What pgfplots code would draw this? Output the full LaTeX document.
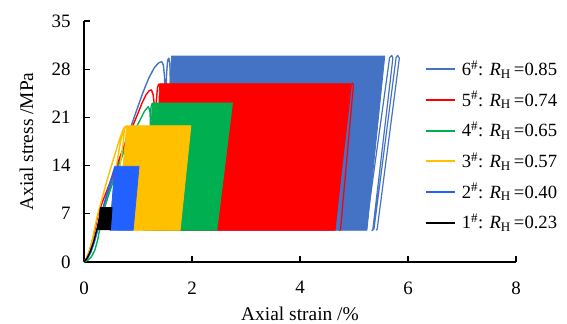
\documentclass[border=0pt]{standalone}
\usepackage{fontspec}
\setmainfont{Liberation Serif}
\usepackage{pgfplots}
\pgfplotsset{compat=1.18}
\definecolor{cS}{RGB}{68,114,196}
\definecolor{cR}{RGB}{255,0,0}
\definecolor{cG}{RGB}{0,176,80}
\definecolor{cY}{RGB}{255,192,0}
\definecolor{cB}{RGB}{34,97,255}
\definecolor{cK}{RGB}{0,0,0}
\newcommand{\legrow}[3]{%
  \draw[#1, line width=2bp] (axis cs:6.333,#2) -- (axis cs:6.87,#2);
  \node[anchor=base west, inner sep=0pt, yshift=-6.2bp, font=\fontsize{18.7}{21}\selectfont] at (axis cs:6.994,#2) {#3};}
\begin{document}
\begin{tikzpicture}
\useasboundingbox (-84bp,-62bp) rectangle (483bp,262bp);
\begin{axis}[
  at={(0,0)}, anchor=south west,
  width=432bp, height=241bp, scale only axis,
  xmin=0, xmax=8, ymin=0, ymax=35,
  clip=false,
  xtick={0,2,4,6,8}, ytick={0,7,14,21,28,35},
  axis lines=left,
  axis line style={-, line width=1.2pt, black},
  tick align=inside,
  major tick length=6bp,
  tick style={line width=1.2pt, black},
  /pgf/number format/assume math mode=true,
  ticklabel style={font=\fontsize{19}{21}\selectfont},
  yticklabel style={xshift=-10bp},
  xticklabel style={yshift=-16bp},
  label style={font=\fontsize{19.5}{22}\selectfont},
  xlabel={Axial strain /\%},
  ylabel={Axial stress /MPa},
  xlabel style={at={(axis description cs:0.5,-0.174)}, anchor=north},
  ylabel style={at={(axis description cs:-0.157,0.5)}, anchor=north},
  line join=round,
]
% 6# blue
\addplot[cS, line width=1.4pt] coordinates {
(0,0) (0.06,0.5) (0.12,1.4) (0.18,2.7) (0.24,4.5) (0.30,6.6) (0.40,9.0) (0.50,11.3)
(0.60,13.6) (0.70,15.9) (0.80,18.2) (0.88,19.9) (1.00,22.6) (1.10,24.8) (1.20,26.7)
(1.30,28.2) (1.38,28.9) (1.44,29.1) (1.47,28.6) (1.49,27.0) (1.50,25.0) (1.48,15)
(1.44,4.8) (1.47,12) (1.51,22) (1.53,27.5) (1.55,29.3) (1.57,29.6) (1.59,28.8) (1.60,26)};
\addplot[cS, fill=cS, line width=0.8pt] coordinates {
(1.62,29.9) (5.57,29.9) (5.24,4.6) (1.45,4.6)} -- cycle;
\addplot[cS, line width=1.2pt] coordinates {
(5.22,4.7) (5.66,29.7) (5.70,30.0) (5.72,29.6) (5.35,4.8) (5.33,4.55) (5.37,4.8)
(5.78,29.7) (5.81,30.0) (5.84,29.6) (5.43,4.8) (5.41,4.6)};

% 5# red
\addplot[cR, line width=1.4pt] coordinates {
(0,0) (0.05,0.6) (0.10,1.6) (0.15,3.0) (0.20,4.6) (0.26,6.9) (0.35,8.9) (0.45,10.9)
(0.55,12.9) (0.65,14.9) (0.75,16.9) (0.85,18.7) (0.91,19.9) (1.00,21.6) (1.07,23.0)
(1.15,24.3) (1.21,24.9) (1.25,25.0) (1.28,24.3) (1.30,23.0) (1.28,12) (1.24,4.8)
(1.28,13) (1.33,22.5) (1.36,25.3) (1.38,25.8) (1.40,25.5)};
\addplot[cR, fill=cR, line width=0.8pt] coordinates {
(1.40,25.9) (4.93,25.9) (4.65,4.6) (1.30,4.6)} -- cycle;
\addplot[cR, line width=1.2pt] coordinates {
(4.64,4.7) (4.95,25.7) (4.97,26.0) (4.99,25.7) (4.75,4.7) (4.73,4.55)};

% 4# green
\addplot[cG, line width=1.4pt] coordinates {
(0,0) (0.08,0.3) (0.14,0.8) (0.20,1.7) (0.25,3.1) (0.30,5.1) (0.35,7.1) (0.45,9.6)
(0.55,11.9) (0.65,14.2) (0.75,16.3) (0.85,18.0) (0.99,19.9) (1.05,20.8) (1.12,21.9)
(1.19,22.55) (1.22,22.0) (1.23,20.5) (1.20,12) (1.15,4.8) (1.19,13) (1.24,22.4)
(1.26,23.0) (1.28,22.8)};
\addplot[cG, fill=cG, line width=0.8pt] coordinates {
(1.27,23.1) (2.75,23.1) (2.46,4.6) (1.10,4.6)} -- cycle;

% 3# yellow
\addplot[cY, line width=1.4pt] coordinates {
(0,0) (0.05,0.6) (0.10,1.6) (0.15,3.0) (0.20,5.0) (0.25,6.8) (0.32,8.8) (0.42,11.7)
(0.54,14.8) (0.65,17.6) (0.72,19.2) (0.75,19.6) (0.73,17.5) (0.64,12.5) (0.54,7.5)
(0.48,4.8) (0.52,8.5) (0.60,14.0) (0.68,17.6) (0.74,19.3) (0.79,19.8)};
\addplot[cY, fill=cY, line width=0.8pt] coordinates {
(0.79,19.8) (1.98,19.8) (1.78,4.6) (0.62,4.6)} -- cycle;

% 2# bright blue
\addplot[cB, line width=1.4pt] coordinates {
(0,0) (0.06,0.5) (0.12,1.3) (0.18,2.6) (0.24,4.3) (0.30,6.3) (0.40,9.2) (0.50,12.0) (0.57,13.8)};
\addplot[cB, fill=cB, line width=0.8pt] coordinates {
(0.57,13.9) (1.02,13.9) (0.91,4.6) (0.48,4.6)} -- cycle;

% 1# black
\addplot[cK, line width=1.4pt] coordinates {
(0,0) (0.06,0.6) (0.12,1.6) (0.18,3.0) (0.24,4.8) (0.30,6.9) (0.32,7.9)};
\addplot[cK, fill=cK, line width=0.8pt] coordinates {
(0.30,7.9) (0.52,7.9) (0.49,4.7) (0.26,4.7)} -- cycle;

% legend
\legrow{cS}{28.0}{6\textsuperscript{\#}: \textit{R}\textsubscript{H}\,=0.85}
\legrow{cR}{23.54}{5\textsuperscript{\#}: \textit{R}\textsubscript{H}\,=0.74}
\legrow{cG}{19.08}{4\textsuperscript{\#}: \textit{R}\textsubscript{H}\,=0.65}
\legrow{cY}{14.62}{3\textsuperscript{\#}: \textit{R}\textsubscript{H}\,=0.57}
\legrow{cB}{10.16}{2\textsuperscript{\#}: \textit{R}\textsubscript{H}\,=0.40}
\legrow{cK}{5.7}{1\textsuperscript{\#}: \textit{R}\textsubscript{H}\,=0.23}
\end{axis}
\end{tikzpicture}
\end{document}
